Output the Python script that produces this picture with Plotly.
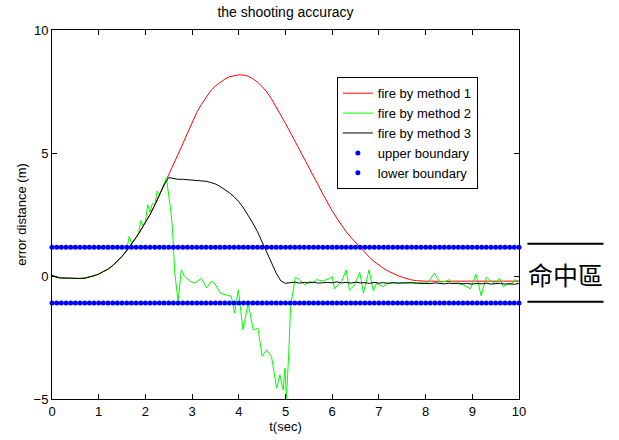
import plotly.graph_objects as go

# ---- data -----------------------------------------------------------------
# time base for methods 1 and 3 (sampled every 0.1 s)
step = 0.1

method1_err = [
    0.03, -0.06, -0.08, -0.09, -0.10, -0.10, -0.10, -0.09, -0.05, 0.01,
    0.08, 0.17, 0.28, 0.42, 0.60, 0.80, 1.03, 1.28, 1.56, 1.86,
    2.17, 2.50, 2.88, 3.28, 3.70, 4.08, 4.50, 4.95, 5.37, 5.80,
    6.25, 6.65, 6.98, 7.27, 7.53, 7.73, 7.88, 8.00, 8.10, 8.15,
    8.18, 8.17, 8.12, 8.02, 7.88, 7.70, 7.48, 7.20, 6.88, 6.55,
    6.20, 5.85, 5.50, 5.15, 4.80, 4.45, 4.08, 3.70, 3.33, 2.98,
    2.65, 2.35, 2.07, 1.80, 1.57, 1.36, 1.16, 0.95, 0.76, 0.59,
    0.44, 0.31, 0.20, 0.10, 0.02, -0.05, -0.11, -0.16, -0.19, -0.21,
    -0.21, -0.21, -0.22, -0.21, -0.21, -0.22, -0.21, -0.21, -0.21, -0.22,
    -0.21, -0.21, -0.22, -0.21, -0.21, -0.21, -0.22, -0.21, -0.21, -0.21,
    -0.21,
]

method3_err = [
    0.03, -0.06, -0.08, -0.09, -0.10, -0.10, -0.10, -0.09, -0.05, 0.01,
    0.08, 0.17, 0.28, 0.42, 0.60, 0.80, 1.03, 1.28, 1.56, 1.86,
    2.17, 2.50, 2.88, 3.28, 3.70, 4.00, 3.95, 3.93, 3.93, 3.92,
    3.91, 3.90, 3.88, 3.85, 3.80, 3.74, 3.64, 3.52, 3.38, 3.22,
    3.02, 2.77, 2.48, 2.15, 1.80, 1.38, 0.97, 0.55, 0.12, -0.20,
    -0.30, -0.27, -0.25, -0.29, -0.26, -0.28, -0.25, -0.29, -0.27, -0.26,
    -0.28, -0.24, -0.28, -0.26, -0.29, -0.25, -0.28, -0.27, -0.30, -0.26,
    -0.29, -0.27, -0.30, -0.27, -0.29, -0.28, -0.30, -0.27, -0.29, -0.30,
    -0.28, -0.31, -0.28, -0.30, -0.32, -0.29, -0.31, -0.29, -0.32, -0.30,
    -0.33, -0.30, -0.32, -0.29, -0.33, -0.31, -0.30, -0.33, -0.31, -0.34,
    -0.30,
]

# method 2 is logged at irregular instants
method2_t = [
    0.0, 0.2, 0.4, 0.6, 0.8, 1.0, 1.2, 1.4, 1.5, 1.6,
    1.65, 1.7, 1.8, 1.85, 1.9, 1.95, 2.0, 2.05, 2.1, 2.15,
    2.2, 2.25, 2.3, 2.4, 2.45, 2.55, 2.58, 2.63, 2.7, 2.77,
    2.84, 2.95, 3.06, 3.2, 3.31, 3.41, 3.48, 3.61, 3.72, 3.84,
    3.91, 3.99, 4.09, 4.2, 4.31, 4.41, 4.5, 4.59, 4.7, 4.81,
    4.88, 4.95, 4.99, 5.02, 5.07, 5.11, 5.16, 5.21, 5.3, 5.41,
    5.52, 5.59, 5.66, 5.8, 5.95, 6.0, 6.05, 6.14, 6.2, 6.3,
    6.37, 6.48, 6.59, 6.67, 6.79, 6.88, 6.95, 7.09, 7.19, 7.3,
    7.5, 7.7, 7.9, 8.05, 8.19, 8.3, 8.42, 8.51, 8.62, 8.8,
    8.96, 9.08, 9.19, 9.3, 9.41, 9.5, 9.58, 9.67, 9.76, 9.83,
    9.9, 10.0,
]
method2_err = [
    0.03, -0.08, -0.10, -0.10, -0.04, 0.08, 0.28, 0.60, 0.80, 1.05,
    1.60, 1.35, 1.56, 1.70, 2.25, 2.05, 2.20, 2.90, 2.60, 2.95,
    2.90, 3.45, 3.30, 3.72, 3.98, 2.56, 1.88, 0.12, -1.04, 0.25,
    -0.02, -0.20, -0.29, -0.09, -0.49, -0.22, -0.29, -0.70, -0.75, -0.83,
    -1.51, -0.56, -2.19, -1.10, -2.19, -2.12, -3.27, -3.00, -3.27, -4.56,
    -4.02, -4.63, -3.74, -4.97, -3.13, -1.24, -0.63, -0.05, -0.15, -0.36,
    -0.22, -0.29, -0.15, -0.20, -0.10, -0.02, -0.52, -0.32, -0.22, 0.24,
    -0.58, -0.36, 0.15, -0.70, 0.25, -0.60, -0.30, -0.43, -0.29, -0.28,
    -0.29, -0.28, -0.29, -0.28, 0.12, -0.25, -0.22, -0.15, -0.29, -0.35,
    -0.52, 0.07, -0.80, -0.05, -0.22, -0.30, -0.10, -0.43, -0.32, -0.36,
    -0.15, -0.22,
]

# acceptance band
upper_bound = 1.17
lower_bound = -1.10

title_text = "the shooting accuracy"
x_label = "t(sec)"
y_label = "error distance (m)"
band_label = "命中區"

# ---- figure ---------------------------------------------------------------
t_main = [round(i * step, 1) for i in range(len(method1_err))]
t_band = [round(i * step, 1) for i in range(101)]

font_main = "Liberation Sans, Arial, sans-serif"

fig = go.Figure()
fig.add_trace(go.Scatter(x=t_main, y=method1_err, mode="lines",
                         name="fire by method 1",
                         line=dict(color="#ff0000", width=1)))
fig.add_trace(go.Scatter(x=method2_t, y=method2_err, mode="lines",
                         name="fire by method 2",
                         line=dict(color="#00ff00", width=1)))
fig.add_trace(go.Scatter(x=t_main, y=method3_err, mode="lines",
                         name="fire by method 3",
                         line=dict(color="#000000", width=1)))
fig.add_trace(go.Scatter(x=t_band, y=[upper_bound] * len(t_band),
                         mode="markers", name="upper boundary",
                         marker=dict(color="#0000ff", size=5),
                         cliponaxis=False))
fig.add_trace(go.Scatter(x=t_band, y=[lower_bound] * len(t_band),
                         mode="markers", name="lower boundary",
                         marker=dict(color="#0000ff", size=5),
                         cliponaxis=False))

axis_common = dict(
    showgrid=False, zeroline=False, showline=True, linecolor="black",
    linewidth=1, mirror="ticks", ticks="inside", ticklen=5,
    tickcolor="black", tickwidth=1, automargin=False,
    tickfont=dict(family=font_main, size=13, color="black"),
)

fig.update_xaxes(range=[0, 10], dtick=1, tick0=0,
                 title=dict(text=x_label, standoff=4,
                            font=dict(family=font_main, size=13, color="black")),
                 **axis_common)
fig.update_yaxes(range=[-5, 10], dtick=5, tick0=0,
                 title=dict(text=y_label, standoff=4,
                            font=dict(family=font_main, size=13, color="black")),
                 **axis_common)

# band marker to the right of the axes
for yp in (0.4206, 0.2634):
    fig.add_shape(type="line", xref="paper", yref="paper",
                  x0=1.018, x1=1.181, y0=yp, y1=yp,
                  line=dict(color="black", width=2))
fig.add_annotation(text=band_label, xref="paper", yref="paper",
                   x=1.0995, y=0.3395, xanchor="center", yanchor="middle",
                   showarrow=False,
                   font=dict(family="Noto Sans CJK TC", size=25, color="black"))

fig.update_layout(
    width=619, height=440,
    margin=dict(l=52, r=100, t=30, b=41),
    paper_bgcolor="white", plot_bgcolor="white",
    title=dict(text=title_text, x=0.5, xref="paper", xanchor="center",
               y=0.972, yref="container", yanchor="middle",
               font=dict(family=font_main, size=14, color="black")),
    showlegend=True,
    legend=dict(x=0.61, y=0.872, xanchor="left", yanchor="top",
                bgcolor="white", bordercolor="black", borderwidth=1,
                font=dict(family=font_main, size=13, color="black"),
                tracegroupgap=0, itemwidth=30),
)

fig.write_html("out.html")
